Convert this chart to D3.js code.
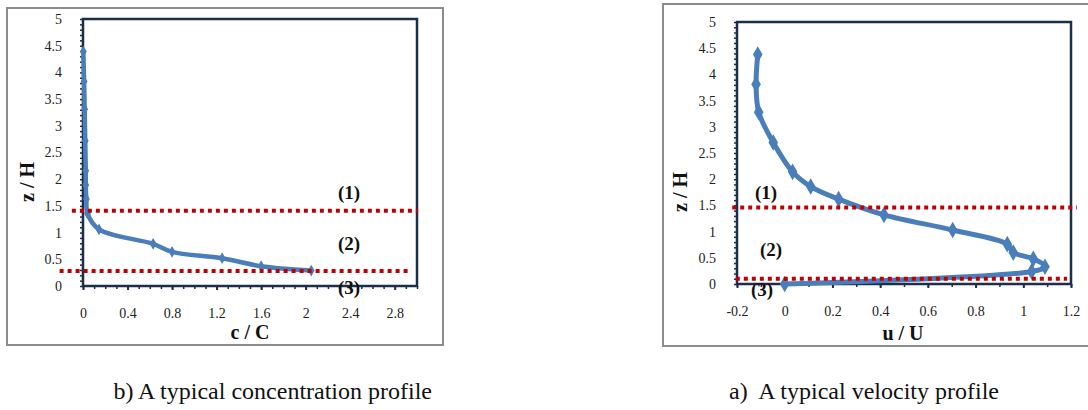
<!DOCTYPE html>
<html>
<head>
<meta charset="utf-8">
<script src="https://cdn.jsdelivr.net/npm/d3@7"></script>
<style>
  body { margin: 0; background: #fff; }
  svg { display: block; }
  svg text { font-family: "Liberation Serif", "Times New Roman", serif; }
</style>
</head>
<body>
<svg id="chart" width="1088" height="410"></svg>
<script>
// concentration profile (left panel)
const concC = [0.003, 0.01, 0.015, 0.02, 0.025, 0.025, 0.03, 0.04, 0.144, 0.63, 0.80, 1.25, 1.60, 2.05];
const concZ = [4.39, 3.83, 3.31, 2.72, 2.16, 1.89, 1.63, 1.36, 1.06, 0.79, 0.64, 0.52, 0.37, 0.29];
const concXTicks = [0, 0.4, 0.8, 1.2, 1.6, 2, 2.4, 2.8];

// velocity profile (right panel)
const velU = [-0.113, -0.12, -0.109, -0.048, 0.033, 0.109, 0.226, 0.416, 0.704, 0.933, 0.958, 1.042, 1.091, 1.035, 0.0];
const velZ = [4.38, 3.81, 3.28, 2.70, 2.14, 1.86, 1.62, 1.32, 1.03, 0.76, 0.60, 0.48, 0.33, 0.24, 0.0];
const velXTicks = [-0.2, 0, 0.2, 0.4, 0.6, 0.8, 1, 1.2];

const zTicks = [0, 0.5, 1, 1.5, 2, 2.5, 3, 3.5, 4, 4.5, 5];

// zone boundaries: z level, x start, x end (data units)
const concZones = [[1.41, -0.10, 3.01], [0.28, -0.21, 2.95]];
const velZones = [[1.46, -0.22, 1.225], [0.10, -0.205, 1.183]];
// zone labels: x, z
const zoneNames = ["(1)", "(2)", "(3)"];
const concZoneLbl = [[2.39, 1.76], [2.39, 0.80], [2.39, -0.02]];
const velZoneLbl = [[-0.078, 1.74], [-0.057, 0.65], [-0.095, -0.11]];

const svg = d3.select("#chart");
const blue = "#4A7EBB";
const navy = "#1B2F4B";
const serif = '"Liberation Serif", "Times New Roman", serif';

function panel(opt) {
    const g = svg.append("g");
    // outer frame
    g.append("rect")
        .attr("x", opt.frame[0]).attr("y", opt.frame[1])
        .attr("width", opt.frame[2]).attr("height", opt.frame[3])
        .attr("fill", "none").attr("stroke", "#8c8c8c").attr("stroke-width", 2);

    const x = d3.scaleLinear().domain(opt.xDomain).range(opt.xRange);
    const y = d3.scaleLinear().domain([0, 5]).range(opt.yRange);

    // minor ticks
    g.append("g").attr("transform", `translate(${opt.xRange[0]},0)`)
        .call(d3.axisLeft(y).tickValues(d3.range(0, 51).map(i => i / 10)).tickSize(3).tickFormat(""))
        .call(a => a.select(".domain").remove())
        .selectAll("line").attr("stroke", navy).attr("stroke-width", 1.5);
    const nx = Math.round((opt.xDomain[1] - opt.xDomain[0]) * 10);
    g.append("g").attr("transform", `translate(0,${opt.yRange[0]})`)
        .call(d3.axisBottom(x).tickValues(d3.range(0, nx + 1).map(i => opt.xDomain[0] + i / 10)).tickSize(3).tickFormat(""))
        .call(a => a.select(".domain").remove())
        .selectAll("line").attr("stroke", navy).attr("stroke-width", 1.5);
    g.append("g").attr("transform", `translate(0,${opt.yRange[0]})`)
        .call(d3.axisBottom(x).tickValues(opt.xTicks).tickSize(4).tickFormat(""))
        .call(a => a.select(".domain").remove())
        .selectAll("line").attr("stroke", navy).attr("stroke-width", 2);

    // tick labels
    g.append("g").attr("transform", `translate(${opt.xRange[0]},0)`)
        .call(d3.axisLeft(y).tickValues(zTicks).tickSize(0).tickPadding(21).tickFormat(d => String(d)))
        .attr("font-family", null).attr("font-size", 14)
        .call(a => a.select(".domain").remove())
        .selectAll("text").attr("fill", "#222").style("font-family", serif);
    g.append("g").attr("transform", `translate(0,${opt.yRange[0]})`)
        .call(d3.axisBottom(x).tickValues(opt.xTicks).tickSize(0).tickPadding(22).tickFormat(d => String(d)))
        .attr("font-family", null).attr("font-size", 14)
        .call(a => a.select(".domain").remove())
        .selectAll("text").attr("fill", "#222").style("font-family", serif);

    // plot border
    g.append("rect")
        .attr("x", opt.xRange[0]).attr("y", opt.yRange[1])
        .attr("width", opt.xRange[1] - opt.xRange[0]).attr("height", opt.yRange[0] - opt.yRange[1])
        .attr("fill", "none").attr("stroke", navy).attr("stroke-width", 2.5);

    // data line
    const pts = opt.xs.map((v, i) => [v, opt.zs[i]]);
    g.append("path").datum(pts)
        .attr("d", d3.line().x(d => x(d[0])).y(d => y(d[1])).curve(d3.curveCatmullRom.alpha(0.5)))
        .attr("fill", "none").attr("stroke", blue).attr("stroke-width", opt.lw)
        .attr("stroke-linejoin", "round").attr("stroke-linecap", "round");
    g.selectAll(".mk").data(pts).enter().append("path")
        .attr("transform", d => `translate(${x(d[0])},${y(d[1])})`)
        .attr("d", d3.symbol(d3.symbolDiamond, opt.mk))
        .attr("fill", blue);

    // zone boundaries
    g.selectAll(".zone").data(opt.zones).enter().append("line")
        .attr("x1", d => x(d[1])).attr("x2", d => x(d[2]))
        .attr("y1", d => y(d[0])).attr("y2", d => y(d[0]))
        .attr("stroke", "#C00000").attr("stroke-width", 4).attr("stroke-dasharray", "4,4");

    g.selectAll(".zl").data(opt.zoneLbl).enter().append("text")
        .attr("x", d => x(d[0])).attr("y", d => y(d[1]))
        .attr("text-anchor", "middle").attr("dominant-baseline", "central")
        .attr("font-size", 19).attr("font-weight", "bold").attr("fill", "#111")
        .text((d, i) => zoneNames[i]);

    // axis titles
    g.append("text")
        .attr("transform", `translate(${opt.yTitle[0]},${opt.yTitle[1]}) rotate(-90)`)
        .attr("text-anchor", "middle").attr("dominant-baseline", "central")
        .attr("font-size", 20).attr("font-weight", "bold").attr("fill", "#111")
        .text("z / H");
    g.append("text")
        .attr("x", opt.xTitle[0]).attr("y", opt.xTitle[1])
        .attr("text-anchor", "middle").attr("dominant-baseline", "central")
        .attr("font-size", 20).attr("font-weight", "bold").attr("fill", "#111")
        .text(opt.xLabel);

    g.append("text")
        .attr("x", opt.caption[0]).attr("y", opt.caption[1])
        .attr("text-anchor", opt.caption[2]).attr("font-size", 24).attr("fill", "#111")
        .attr("xml:space", "preserve")
        .text(opt.captionText);
}

panel({
    frame: [7, 8, 436, 337],
    xDomain: [0, 3], xRange: [83, 417], yRange: [286, 19],
    xTicks: concXTicks, xs: concC, zs: concZ, lw: 4.5, mk: 40,
    zones: concZones, zoneLbl: concZoneLbl,
    yTitle: [27, 182], xTitle: [250, 332], xLabel: "c / C",
    caption: [432, 399, "end"], captionText: "b) A typical concentration profile"
});

panel({
    frame: [663, 4, 440, 342],
    xDomain: [-0.2, 1.2], xRange: [737, 1071], yRange: [284, 22],
    xTicks: velXTicks, xs: velU, zs: velZ, lw: 5, mk: 80,
    zones: velZones, zoneLbl: velZoneLbl,
    yTitle: [680, 192], xTitle: [903, 333], xLabel: "u / U",
    caption: [864, 399, "middle"], captionText: "a)  A typical velocity profile"
});
</script>
</body>
</html>
